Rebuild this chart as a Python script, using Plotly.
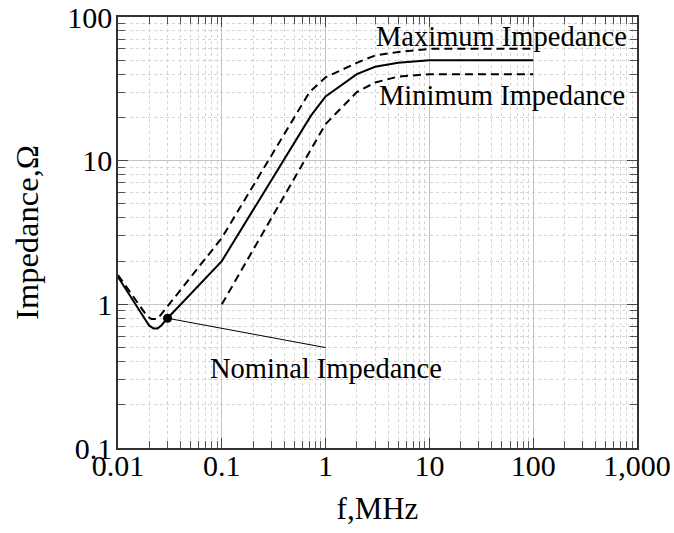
import numpy as np
import plotly.graph_objects as go

# ---- data ----
freq_nominal = [0.01, 0.02, 0.022, 0.024, 0.026, 0.03, 0.1, 0.72, 1, 2, 3, 5, 10, 100]
z_nominal = [1.55, 0.71, 0.68, 0.68, 0.71, 0.8, 2.0, 20.5, 28, 40, 45, 48, 50, 50]

freq_max = [0.01, 0.019, 0.021, 0.024, 0.1, 0.7, 1, 2, 3, 5, 10, 100]
z_max = [1.6, 0.83, 0.79, 0.79, 2.9, 30, 38, 48, 54, 57, 60, 60]

freq_min = [0.1, 1, 2, 3, 5, 10, 100]
z_min = [1.0, 18, 30, 35, 38.5, 40, 40]

nominal_point_f = [0.03]
nominal_point_z = [0.8]
pointer_f = [0.03, 1]
pointer_z = [0.8, 0.5]

x_tickvals = [0.01, 0.1, 1, 10, 100, 1000]
x_ticktext = ["0.01", "0.1", "1", "10", "100", "1,000"]
y_tickvals = [0.1, 1, 10, 100]
y_ticktext = ["0.1", "1", "10", "100"]

FONT = "Liberation Serif"

fig = go.Figure()
fig.add_trace(go.Scatter(x=freq_max, y=z_max, mode="lines",
                         line=dict(color="black", width=2, dash="8px,5px"),
                         name="Maximum Impedance", showlegend=False))
fig.add_trace(go.Scatter(x=freq_min, y=z_min, mode="lines",
                         line=dict(color="black", width=2, dash="8px,5px"),
                         name="Minimum Impedance", showlegend=False))
fig.add_trace(go.Scatter(x=freq_nominal, y=z_nominal, mode="lines",
                         line=dict(color="black", width=2),
                         name="Nominal Impedance", showlegend=False))
fig.add_trace(go.Scatter(x=pointer_f, y=pointer_z, mode="lines",
                         line=dict(color="black", width=1), showlegend=False))
fig.add_trace(go.Scatter(x=nominal_point_f, y=nominal_point_z, mode="markers",
                         marker=dict(color="black", size=9), showlegend=False))

axis_common = dict(
    type="log",
    showline=True, linecolor="#333333", linewidth=1.5, mirror="allticks",
    ticks="inside", ticklen=10, tickcolor="#444444", tickwidth=1,
    showgrid=True, gridcolor="#c4c4c4", gridwidth=1,
    zeroline=False,
    tickfont=dict(family=FONT, size=30, color="black"),
    minor=dict(dtick="D1", ticks="inside", ticklen=7, tickcolor="#555555",
               tickwidth=1, showgrid=True, gridcolor="#d4d4d4",
               griddash="dot", gridwidth=1),
)

fig.update_xaxes(**axis_common, range=[-2, 3], tickmode="array",
                 tickvals=x_tickvals, ticktext=x_ticktext, ticklabelstandoff=-10,
                 title=dict(text="f,MHz", font=dict(family=FONT, size=31, color="black"),
                            standoff=17))
fig.update_yaxes(**axis_common, range=[-1, 2], tickmode="array",
                 tickvals=y_tickvals, ticktext=y_ticktext, ticklabelstandoff=-2,
                 title=dict(text="Impedance,Ω", font=dict(family=FONT, size=32.5, color="black"),
                            standoff=19))

ann_font = dict(family=FONT, size=28.5, color="black")
fig.add_annotation(x=np.log10(50), y=1.867, text="Maximum Impedance", showarrow=False,
                   font=ann_font, xanchor="center", yanchor="middle")
fig.add_annotation(x=np.log10(50), y=1.457, text="Minimum Impedance", showarrow=False,
                   font=ann_font, xanchor="center", yanchor="middle")
fig.add_annotation(x=0, y=-0.447, text="Nominal Impedance", showarrow=False,
                   font=ann_font, xanchor="center", yanchor="middle")

fig.update_layout(
    width=674, height=533,
    margin=dict(l=118, r=37, t=17, b=85, autoexpand=False),
    paper_bgcolor="white", plot_bgcolor="white",
    font=dict(family=FONT, color="black"),
    showlegend=False,
)

fig.write_html("out.html", config={"displayModeBar": False},
               post_script="document.body.style.margin='0';document.body.style.overflow='hidden';")
